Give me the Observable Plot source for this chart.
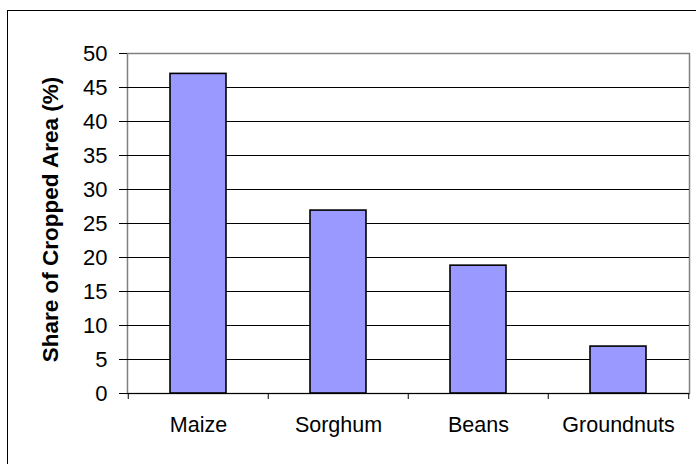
<!DOCTYPE html>
<html>
<head>
<meta charset="utf-8">
<script src="https://cdn.jsdelivr.net/npm/d3@7"></script>
<script src="https://cdn.jsdelivr.net/npm/@observablehq/plot@0.6"></script>
<style>
  html, body { margin: 0; padding: 0; background: #fff; overflow: hidden; }
  #wrap { position: relative; width: 696px; height: 464px; }
  #border { position: absolute; left: 7px; top: 10px; width: 800px; height: 600px;
            border: 1px solid #000; pointer-events: none; }
</style>
</head>
<body>
<div id="wrap"><div id="border"></div></div>
<script>
const categories = ["Maize", "Sorghum", "Beans", "Groundnuts"];
const shares = [47, 26.9, 18.8, 6.9];
const yTicks = [0, 5, 10, 15, 20, 25, 30, 35, 40, 45, 50];
const gridTicks = [5, 10, 15, 20, 25, 30, 35, 40, 45];
const yTitle = "Share of Cropped Area (%)";

const data = categories.map((c, i) => ({category: c, share: shares[i]}));

const W = 696, H = 464;
const mL = 127, mR = 7, mT = 53, mB = 71;
const step = (W - mL - mR) / categories.length;
const font = "'Liberation Sans', Arial, sans-serif";

const chart = Plot.plot({
  width: W,
  height: H,
  marginLeft: mL,
  marginRight: mR,
  marginTop: mT,
  marginBottom: mB,
  style: {fontFamily: font, background: "transparent", color: "#000"},
  x: {domain: categories, paddingInner: 0.6, paddingOuter: 0.3, label: null},
  y: {domain: [0, 50], label: null},
  marks: [
    Plot.frame({stroke: "#808080", strokeWidth: 1.5}),
    Plot.gridY(gridTicks, {stroke: "#000", strokeOpacity: 1, strokeWidth: 1}),
    Plot.barY(data, {x: "category", y: "share", fill: "#9999FF", stroke: "#000", strokeWidth: 1.6}),
    Plot.ruleY([0], {stroke: "#000", strokeWidth: 1}),
    Plot.axisY({ticks: yTicks, tickSize: 8, tickPadding: 12, line: true, stroke: "#000",
                fontSize: 22, label: null, tickFormat: d => d}),
    Plot.axisX({ticks: categories, tickSize: 6, dx: -step / 2, tickFormat: () => "", label: null, stroke: "#000"}),
    Plot.axisX({ticks: [categories[categories.length - 1]], tickSize: 6, dx: step / 2, tickFormat: () => "", label: null, stroke: "#000"}),
    Plot.axisX({ticks: categories, tickSize: 0, tickPadding: 23, fontSize: 21.5, label: null}),
    Plot.text([yTitle], {frameAnchor: "left", textAnchor: "middle", rotate: -90, dx: -77, dy: -4,
                         fontSize: 22.5, fontWeight: "bold", fill: "#000"})
  ]
});
document.getElementById("wrap").prepend(chart);
</script>
</body>
</html>
